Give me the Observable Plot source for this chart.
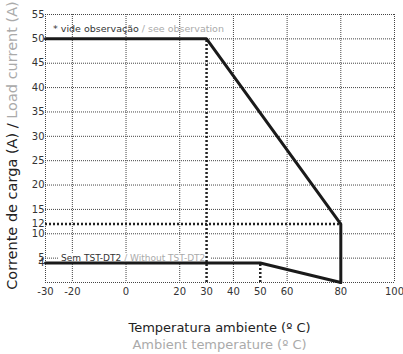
<!DOCTYPE html>
<html>
<head>
<meta charset="utf-8">
<script src="https://cdn.jsdelivr.net/npm/d3@7"></script>
<script src="https://cdn.jsdelivr.net/npm/@observablehq/plot@0.6"></script>
<style>
  html, body { margin: 0; padding: 0; background: #fff; }
  body { width: 403px; height: 354px; overflow: hidden; font-family: "DejaVu Sans", sans-serif; }
  #wrap { position: relative; width: 403px; }
  .xt { text-align: center; width: 403px; padding-left: 36px; box-sizing: border-box; font-size: 13px; line-height: 17px; }
  .xt1 { color: #222; margin-top: 17px; }
  .xt2 { color: #aaa; }
</style>
</head>
<body>
<div id="wrap"></div>
<div class="xt xt1">Temperatura ambiente (º C)</div>
<div class="xt xt2">Ambient temperature (º C)</div>
<script>
// Data
const withTemp = [-30, 30, 80, 80];
const withCurrent = [50, 50, 12, 0];
const withoutTemp = [-30, 50, 80];
const withoutCurrent = [4, 4, 0];
const xTicks = [-30, -20, 0, 20, 30, 40, 50, 60, 80, 100];
const yTicks = [4, 5, 10, 12, 15, 20, 25, 30, 35, 40, 45, 50, 55];
const xGrid = [-30, -20, 0, 20, 40, 60, 80, 100];
const yGrid = [0, 5, 10, 15, 20, 25, 30, 35, 40, 45, 50, 55];
const refXPos = [30, 50];
const refXTop = [50, 4];
const refYPos = [12];
const refYEnd = [80];
const noteMain = "* vide observação";
const noteAlt = " / see observation";
const lowMain = "Sem TST-DT2";
const lowAlt = " / Without TST-DT2";
const yTitleMain = "Corrente de carga (A) / ";
const yTitleAlt = "Load current (A)";

const withData = withTemp.map((t, i) => ({t, c: withCurrent[i]}));
const withoutData = withoutTemp.map((t, i) => ({t, c: withoutCurrent[i]}));
const refX = refXPos.map((x, i) => ({x, top: refXTop[i]}));
const refY = refYPos.map((y, i) => ({y, end: refYEnd[i]}));

const FONT = '"DejaVu Sans", sans-serif';
const dark = "#333";
const grey = "#aaa";

const chart = Plot.plot({
  width: 403,
  height: 302,
  marginLeft: 45,
  marginRight: 9,
  marginTop: 14,
  marginBottom: 20,
  style: {fontFamily: FONT, fontSize: "10px", color: dark, background: "#fff"},
  x: {domain: [-30, 100]},
  y: {domain: [0, 55]},
  marks: [
    Plot.ruleX(xGrid, {stroke: "#444", strokeWidth: 1, strokeDasharray: "1,1"}),
    Plot.ruleY(yGrid, {stroke: "#444", strokeWidth: 1, strokeDasharray: "1,1"}),
    Plot.ruleX(refX, {x: "x", y1: 0, y2: "top", stroke: "#222", strokeWidth: 2.5, strokeDasharray: "2,2", className: "refx"}),
    Plot.ruleY(refY, {y: "y", x1: -30, x2: "end", stroke: "#222", strokeWidth: 2.5, strokeDasharray: "2,2"}),
    Plot.line(withData, {x: "t", y: "c", stroke: "#1a1a1a", strokeWidth: 3, strokeLinejoin: "miter"}),
    Plot.line(withoutData, {x: "t", y: "c", stroke: "#1a1a1a", strokeWidth: 3, strokeLinejoin: "miter"}),
    Plot.axisX({ticks: xTicks, tickSize: 0, tickPadding: 5, label: null, tickFormat: d => String(d)}),
    Plot.axisY({ticks: yTicks, tickSize: 0, tickPadding: 1, label: null, tickFormat: d => String(d)})
  ]
});

document.getElementById("wrap").appendChild(chart);

const sx = chart.scale("x");
const sy = chart.scale("y");
const svg = d3.select(chart);

function twoTone(x, y, a, b, size, withBg) {
  const g = svg.append("g");
  const t = g.append("text")
    .attr("x", sx.apply(x)).attr("y", sy.apply(y))
    .attr("dy", "0.35em")
    .attr("text-anchor", "start")
    .attr("font-family", FONT).attr("font-size", size);
  t.append("tspan").attr("fill", dark).text(a);
  t.append("tspan").attr("fill", grey).text(b);
  if (withBg) {
    const bb = t.node().getBBox();
    const before = chart.querySelector(".refx");
    const rect = document.createElementNS("http://www.w3.org/2000/svg", "rect");
    rect.setAttribute("x", bb.x - 3);
    rect.setAttribute("y", bb.y);
    rect.setAttribute("width", bb.width + 8);
    rect.setAttribute("height", bb.height);
    rect.setAttribute("fill", "#fff");
    if (before) chart.insertBefore(rect, before); else g.node().insertBefore(rect, t.node());
  }
}

twoTone(-27, 52, noteMain, noteAlt, "9.5px", false);
twoTone(-24, 5, lowMain, lowAlt, "9px", true);

// Y axis title
const yt = svg.append("text")
  .attr("transform", `translate(12, ${(sy.apply(0) + 5) / 2 + 2}) rotate(-90)`)
  .attr("text-anchor", "middle")
  .attr("dy", "0.35em")
  .attr("font-family", FONT).attr("font-size", "14.5px");
yt.append("tspan").attr("fill", "#222").text(yTitleMain);
yt.append("tspan").attr("fill", grey).text(yTitleAlt);
</script>
</body>
</html>
